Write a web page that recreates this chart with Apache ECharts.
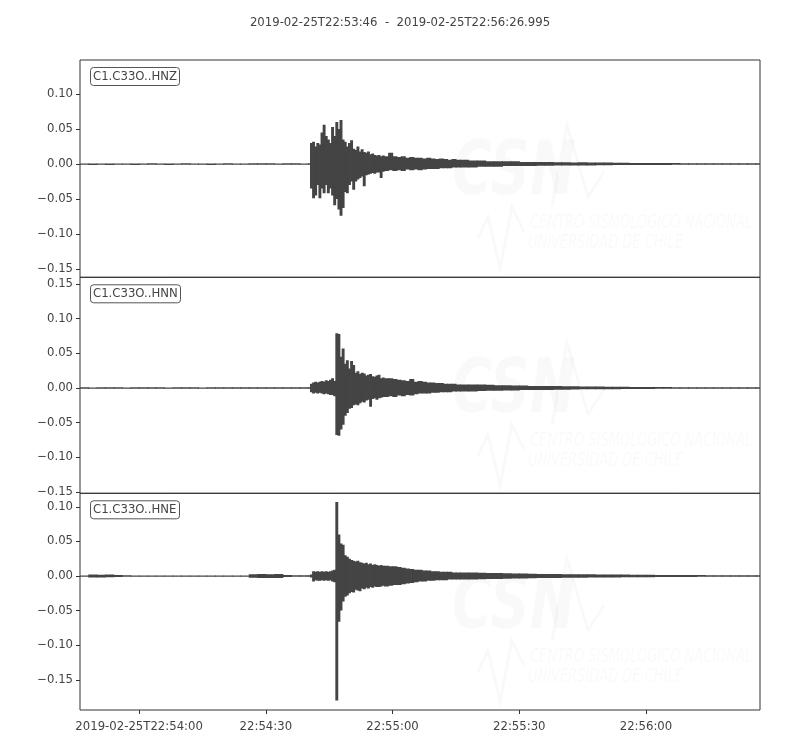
<!DOCTYPE html>
<html>
<head>
<meta charset="utf-8">
<script src="https://cdn.jsdelivr.net/npm/echarts@6/dist/echarts.min.js"></script>
<style>html,body{margin:0;padding:0;background:#fff}#c{width:800px;height:750px}</style>
</head>
<body>
<div id="c"></div>
<script>
// ---- data ----
const titleText = '2019-02-25T22:53:46  -  2019-02-25T22:56:26.995';
const channels = ['C1.C33O..HNZ', 'C1.C33O..HNN', 'C1.C33O..HNE'];
// x axis: seconds after 2019-02-25T22:53:46
const xTickValues = [14, 44, 74, 104, 134];
const xTickLabels = ['2019-02-25T22:54:00', '22:54:30', '22:55:00', '22:55:30', '22:56:00'];
const xMax = 160.995;
// y limits and ticks per panel
const yLimits = [[-0.1621, 0.1488], [-0.1519, 0.1596], [-0.1936, 0.1195]];
const yTicks = [
  [-0.15, -0.10, -0.05, 0.00, 0.05, 0.10],
  [-0.15, -0.10, -0.05, 0.00, 0.05, 0.10, 0.15],
  [-0.15, -0.10, -0.05, 0.00, 0.05, 0.10]
];
// start time of each envelope bin (s)
const binStart = [
  0,2,4,6,8,10,12,14,16,18,20,22,24,26,28,30,32,34,36,38,40,42,44,46,48,50,52,54,
  54.5,55,55.5,56,56.5,57,57.5,58,58.5,59,59.5,60,60.5,61,61.5,62,62.5,63,63.5,64,64.5,65,65.5,66,66.5,67,67.5,68,68.5,69,69.5,70,70.5,71,71.5,72,
  73,74,75,76,77,78,79,80,81,82,83,84,85,86,87,88,89,90,
  92,94,96,98,100,102,104,106,108,110,112,114,116,118,120,122,124,126,128,130,132,134,136,138,140,142,144,146,148,150,152,154,156,158,160
];
// HNZ envelope (max / min of each bin)
const hiZ = [
  0.0008,0.0007,0.0008,0.0007,0.0008,0.0008,0.0007,0.0008,0.0009,0.0008,0.0007,0.0008,0.0009,0.0008,0.0008,0.0007,0.0008,0.0009,0.0008,0.0008,0.0009,0.0010,0.0009,0.0008,0.0010,0.0009,0.0008,0.0009,
  0.030,0.032,0.025,0.030,0.028,0.045,0.056,0.040,0.035,0.030,0.053,0.040,0.060,0.050,0.063,0.035,0.032,0.025,0.030,0.034,0.022,0.020,0.025,0.018,0.021,0.017,0.016,0.018,0.014,0.015,0.013,0.012,0.013,0.011,0.012,0.011,
  0.016,0.011,0.010,0.011,0.009,0.010,0.009,0.009,0.008,0.009,0.008,0.007,0.008,0.007,0.006,0.007,0.006,0.006,
  0.005,0.005,0.004,0.004,0.004,0.004,0.003,0.003,0.003,0.003,0.0025,0.0025,0.002,0.0025,0.002,0.002,0.002,0.0018,0.0018,0.0016,0.0015,0.0015,0.0014,0.0014,0.0013,0.0012,0.0012,0.0012,0.0011,0.0011,0.0010,0.0010,0.0010,0.0010,0.0010
];
const loZ = [
  -0.0008,-0.0008,-0.0007,-0.0008,-0.0008,-0.0007,-0.0008,-0.0008,-0.0009,-0.0007,-0.0008,-0.0008,-0.0008,-0.0009,-0.0007,-0.0008,-0.0008,-0.0008,-0.0009,-0.0008,-0.0008,-0.0009,-0.0010,-0.0008,-0.0009,-0.0010,-0.0008,-0.0009,
  -0.035,-0.049,-0.045,-0.030,-0.049,-0.035,-0.042,-0.030,-0.042,-0.035,-0.045,-0.059,-0.050,-0.065,-0.074,-0.063,-0.040,-0.042,-0.030,-0.025,-0.037,-0.025,-0.022,-0.020,-0.018,-0.032,-0.016,-0.015,-0.014,-0.013,-0.014,-0.012,-0.012,-0.020,-0.011,-0.010,
  -0.009,-0.010,-0.009,-0.010,-0.008,-0.009,-0.008,-0.009,-0.008,-0.007,-0.007,-0.007,-0.006,-0.006,-0.006,-0.005,-0.005,-0.005,
  -0.005,-0.004,-0.004,-0.004,-0.003,-0.003,-0.003,-0.003,-0.0025,-0.0025,-0.002,-0.002,-0.002,-0.002,-0.002,-0.0018,-0.0018,-0.0016,-0.0016,-0.0015,-0.0014,-0.0014,-0.0013,-0.0013,-0.0012,-0.0012,-0.0011,-0.0011,-0.0010,-0.0010,-0.0010,-0.0010,-0.0009,-0.0009,-0.0009
];
// HNN envelope
const hiN = [
  0.0009,0.0008,0.0009,0.0010,0.0009,0.0008,0.0009,0.0010,0.0009,0.0009,0.0008,0.0009,0.0010,0.0009,0.0008,0.0009,0.0010,0.0009,0.0009,0.0010,0.0011,0.0010,0.0009,0.0010,0.0011,0.0010,0.0010,0.0011,
  0.006,0.008,0.009,0.008,0.009,0.010,0.009,0.011,0.010,0.012,0.014,0.010,0.079,0.078,0.045,0.057,0.035,0.040,0.028,0.039,0.033,0.022,0.024,0.020,0.022,0.021,0.018,0.019,0.020,0.017,0.016,0.018,0.019,0.014,0.015,0.014,
  0.014,0.013,0.012,0.011,0.010,0.013,0.009,0.010,0.009,0.008,0.008,0.007,0.007,0.006,0.006,0.006,0.005,0.005,
  0.005,0.005,0.0045,0.004,0.004,0.0035,0.0035,0.003,0.003,0.003,0.0028,0.0025,0.0025,0.0022,0.002,0.002,0.0018,0.0018,0.0016,0.0015,0.0015,0.0014,0.0013,0.0013,0.0012,0.0012,0.0011,0.0011,0.0010,0.0010,0.0010,0.0009,0.0009,0.0009,0.0009
];
const loN = [
  -0.0009,-0.0009,-0.0008,-0.0009,-0.0010,-0.0009,-0.0008,-0.0009,-0.0010,-0.0009,-0.0009,-0.0008,-0.0009,-0.0010,-0.0009,-0.0009,-0.0009,-0.0010,-0.0009,-0.0009,-0.0010,-0.0011,-0.0010,-0.0010,-0.0010,-0.0011,-0.0010,-0.0011,
  -0.006,-0.008,-0.007,-0.008,-0.007,-0.008,-0.009,-0.008,-0.009,-0.010,-0.010,-0.012,-0.068,-0.069,-0.060,-0.053,-0.040,-0.036,-0.030,-0.029,-0.025,-0.024,-0.025,-0.022,-0.020,-0.021,-0.018,-0.017,-0.027,-0.016,-0.015,-0.017,-0.015,-0.014,-0.013,-0.013,
  -0.012,-0.013,-0.011,-0.012,-0.010,-0.011,-0.009,-0.008,-0.008,-0.008,-0.007,-0.007,-0.006,-0.006,-0.006,-0.005,-0.005,-0.005,
  -0.005,-0.0045,-0.004,-0.004,-0.0035,-0.0035,-0.003,-0.003,-0.003,-0.0028,-0.0025,-0.0025,-0.0022,-0.002,-0.002,-0.002,-0.0018,-0.0017,-0.0016,-0.0015,-0.0014,-0.0014,-0.0013,-0.0012,-0.0012,-0.0011,-0.0011,-0.0010,-0.0010,-0.0010,-0.0009,-0.0009,-0.0009,-0.0009,-0.0008
];
// HNE envelope
const hiE = [
  0.0008,0.0020,0.0018,0.0020,0.0015,0.0012,0.0008,0.0008,0.0009,0.0008,0.0008,0.0009,0.0008,0.0008,0.0009,0.0008,0.0008,0.0009,0.0008,0.0009,0.0025,0.0030,0.0025,0.0030,0.0015,0.0010,0.0010,0.0010,
  0.002,0.007,0.006,0.007,0.006,0.007,0.006,0.007,0.006,0.007,0.008,0.009,0.107,0.060,0.047,0.045,0.030,0.028,0.025,0.023,0.022,0.021,0.022,0.020,0.019,0.018,0.019,0.017,0.018,0.016,0.017,0.016,0.015,0.016,0.015,0.015,
  0.014,0.014,0.013,0.012,0.011,0.010,0.009,0.009,0.008,0.008,0.007,0.007,0.006,0.006,0.006,0.005,0.005,0.005,
  0.005,0.0048,0.0045,0.0042,0.004,0.0038,0.0035,0.0033,0.003,0.003,0.0028,0.0027,0.0025,0.0025,0.0024,0.0022,0.0021,0.002,0.002,0.0019,0.0018,0.0017,0.0016,0.0015,0.0015,0.0014,0.0013,0.0013,0.0012,0.0012,0.0011,0.0011,0.0010,0.0010,0.0010
];
const loE = [
  -0.0008,-0.0020,-0.0020,-0.0018,-0.0015,-0.0012,-0.0008,-0.0009,-0.0008,-0.0008,-0.0009,-0.0008,-0.0008,-0.0009,-0.0008,-0.0008,-0.0009,-0.0008,-0.0008,-0.0009,-0.0025,-0.0030,-0.0028,-0.0030,-0.0015,-0.0010,-0.0010,-0.0010,
  -0.002,-0.008,-0.006,-0.007,-0.007,-0.006,-0.007,-0.006,-0.007,-0.006,-0.008,-0.009,-0.180,-0.066,-0.050,-0.037,-0.030,-0.028,-0.025,-0.023,-0.024,-0.020,-0.021,-0.022,-0.018,-0.019,-0.017,-0.018,-0.016,-0.017,-0.015,-0.016,-0.016,-0.015,-0.014,-0.015,
  -0.014,-0.013,-0.013,-0.012,-0.011,-0.010,-0.009,-0.008,-0.008,-0.007,-0.007,-0.006,-0.006,-0.006,-0.005,-0.005,-0.005,-0.005,
  -0.005,-0.0047,-0.0044,-0.0042,-0.004,-0.0037,-0.0035,-0.0032,-0.003,-0.0029,-0.0028,-0.0026,-0.0025,-0.0024,-0.0023,-0.0022,-0.0021,-0.002,-0.0019,-0.0018,-0.0018,-0.0017,-0.0016,-0.0015,-0.0014,-0.0014,-0.0013,-0.0012,-0.0012,-0.0011,-0.0011,-0.0010,-0.0010,-0.0010,-0.0009
];
const envelopes = [[hiZ, loZ], [hiN, loN], [hiE, loE]];

// ---- layout ----
const FONT = 'DejaVu Sans';
const TXT = '#444444';
const WAVE = '#444444';
const FRAME = '#333333';
const panelTop = [60, 277.3, 493.3];
const panelH = [217.3, 216, 216.7];

function fmtY(v) {
  const s = Math.abs(v).toFixed(2);
  return (v < -1e-9 ? '\u2212' : '') + s;
}
function binData(hi, lo) {
  const out = [];
  for (let i = 0; i < binStart.length; i++) {
    const end = i + 1 < binStart.length ? binStart[i + 1] : xMax;
    out.push([binStart[i], hi[i], lo[i], end]);
  }
  return out;
}
function renderBin(params, api) {
  const p1 = api.coord([api.value(0), api.value(1)]);
  const p2 = api.coord([api.value(3), api.value(2)]);
  const w = Math.max(p2[0] - p1[0], 1) + 0.8;
  const h = Math.max(p2[1] - p1[1], 1.4);
  return {type: 'rect', shape: {x: p1[0] - 0.2, y: p1[1], width: w, height: h},
    style: {fill: WAVE}};
}

const grids = [], xAxes = [], yAxes = [], series = [], titles = [], graphics = [];
titles.push({
  text: titleText, left: 'center', top: 12,
  textStyle: {fontFamily: FONT, fontSize: 11.7, fontWeight: 'normal', color: TXT}
});
for (let p = 0; p < 3; p++) {
  const last = p === 2;
  grids.push({left: 80, width: 680, top: panelTop[p], height: panelH[p], show: true,
    borderColor: FRAME, borderWidth: 1, backgroundColor: 'transparent'});
  xAxes.push({
    type: 'value', gridIndex: p, min: 0, max: xMax, position: 'bottom',
    axisLine: {show: false, onZero: false},
    splitLine: {show: false},
    axisTick: {show: last, length: 4, lineStyle: {color: FRAME}, customValues: xTickValues},
    axisLabel: {show: last, customValues: xTickValues, margin: 11,
      fontFamily: FONT, fontSize: 11.7, color: TXT,
      formatter: v => xTickLabels[xTickValues.indexOf(Math.round(v))] || ''}
  });
  yAxes.push({
    type: 'value', gridIndex: p, min: yLimits[p][0], max: yLimits[p][1],
    axisLine: {show: false, onZero: false},
    splitLine: {show: false},
    axisTick: {show: true, length: 4, lineStyle: {color: FRAME}, customValues: yTicks[p]},
    axisLabel: {show: true, customValues: yTicks[p], margin: 7,
      fontFamily: FONT, fontSize: 11.7, color: TXT, formatter: v => fmtY(v)}
  });
  series.push({
    type: 'custom', xAxisIndex: p, yAxisIndex: p, name: channels[p],
    data: binData(envelopes[p][0], envelopes[p][1]),
    renderItem: renderBin, clip: true, z: 3, animation: false,
    encode: {x: [0, 3], y: [1, 2]}
  });
  titles.push({
    text: channels[p], left: 90, top: panelTop[p] + 7,
    padding: [3, 3, 2, 3], borderColor: '#555555', borderWidth: 1, borderRadius: 3,
    backgroundColor: '#ffffff',
    textStyle: {fontFamily: FONT, fontSize: 11.7, fontWeight: 'normal', color: TXT, lineHeight: 14}
  });
  // faint CSN watermark
  const dy = panelTop[p] - 60;
  const wm = 'rgba(0,0,0,0.025)';
  graphics.push({type: 'text', z: 1, silent: true, x: 452, y: 138 + dy, scaleX: 0.74,
    style: {text: 'CSN', fill: wm, font: 'italic bold 74px "DejaVu Sans"', verticalAlign: 'top'}});
  graphics.push({type: 'polyline', z: 1, silent: true,
    shape: {points: [[552, 207 + dy], [567, 125 + dy], [588, 197 + dy], [604, 172 + dy]]},
    style: {stroke: wm, lineWidth: 3, fill: null}});
  graphics.push({type: 'polyline', z: 1, silent: true,
    shape: {points: [[478, 238 + dy], [488, 217 + dy], [500, 268 + dy], [512, 207 + dy], [524, 232 + dy]]},
    style: {stroke: wm, lineWidth: 3, fill: null}});
  graphics.push({type: 'text', z: 1, silent: true, x: 530, y: 213 + dy, scaleX: 0.65,
    style: {text: 'CENTRO SISMOLÓGICO NACIONAL', fill: wm, font: 'italic 20px "DejaVu Sans"', verticalAlign: 'top'}});
  graphics.push({type: 'text', z: 1, silent: true, x: 528, y: 233 + dy, scaleX: 0.65,
    style: {text: 'UNIVERSIDAD DE CHILE', fill: wm, font: 'italic 20px "DejaVu Sans"', verticalAlign: 'top'}});
}

const chart = echarts.init(document.getElementById('c'), null, {renderer: 'canvas'});
chart.setOption({
  animation: false,
  backgroundColor: '#ffffff',
  title: titles,
  grid: grids,
  xAxis: xAxes,
  yAxis: yAxes,
  series: series,
  graphic: graphics
});
</script>
</body>
</html>
